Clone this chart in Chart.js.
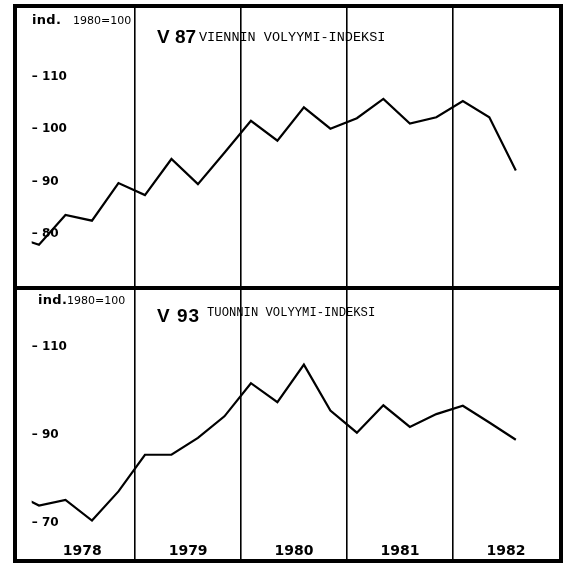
<!DOCTYPE html>
<html>
<head>
<meta charset="utf-8">
<script src="https://cdn.jsdelivr.net/npm/chart.js@4.4.1/dist/chart.umd.min.js"></script>
<style>
  body { margin: 0; background: #fff; }
  #frame {
    position: absolute; left: 13px; top: 4px; width: 550px; height: 559px;
    border: 4px solid #000; box-sizing: border-box;
  }
  .panel { position: relative; width: 542px; }
  #p1 { height: 278px; border-bottom: 4px solid #000; }
  #p2 { height: 269px; }
  .t { position: absolute; line-height: 1; white-space: nowrap; color: #000; }
  .ind { font: bold 13px "DejaVu Sans"; letter-spacing: 0.3px; }
  .base { font: 11px "DejaVu Sans"; }
  .code { font: bold 19px "Liberation Sans"; }
  .name { font: 13.5px "Liberation Mono"; }
</style>
</head>
<body>
<div id="frame">
  <div class="panel" id="p1">
    <canvas id="exportChart"></canvas>
    <span class="t ind" style="left:15px;top:4px">ind.</span>
    <span class="t base" style="left:56px;top:6px">1980=100</span>
    <span class="t code" style="left:140px;top:18px">V 87</span>
    <span class="t name" style="left:182px;top:22px">VIENNIN VOLYYMI-INDEKSI</span>
  </div>
  <div class="panel" id="p2">
    <canvas id="importChart"></canvas>
    <span class="t ind" style="left:21px;top:2px">ind.</span>
    <span class="t base" style="left:50px;top:4px">1980=100</span>
    <span class="t code" style="left:140px;top:15px;letter-spacing:1px">V 93</span>
    <span class="t name" style="left:190px;top:16px;font-size:12.2px">TUONNIN VOLYYMI-INDEKSI</span>
  </div>
</div>
<script>
const years = [1978, 1979, 1980, 1981, 1982];
const quarters = [
  "1977 IV",
  "1978 I", "1978 II", "1978 III", "1978 IV",
  "1979 I", "1979 II", "1979 III", "1979 IV",
  "1980 I", "1980 II", "1980 III", "1980 IV",
  "1981 I", "1981 II", "1981 III", "1981 IV",
  "1982 I", "1982 II", "1982 III"
];
// V 87 viennin volyymi-indeksi (1980=100)
const exportIndex = [79.6, 77.9, 83.6, 82.5, 89.7, 87.4, 94.3, 89.5, 95.5, 101.6,
  97.8, 104.2, 100.1, 102.1, 105.8, 101.1, 102.3, 105.4, 102.3, 92.1];
// V 93 tuonnin volyymi-indeksi (1980=100)
const importIndex = [77.0, 74.0, 75.3, 70.6, 77.2, 85.5, 85.5, 89.3, 94.2, 101.7,
  97.4, 105.9, 95.5, 90.5, 96.7, 91.8, 94.7, 96.6, 92.8, 88.9];
const exportTicks = [80, 90, 100, 110];
const importTicks = [70, 90, 110];

const romans = ["I", "II", "III", "IV"];
const firstYear = years[0];

// x in quarters counted from the start of 1978
function quarterX(label) {
  const parts = label.split(" ");
  return (Number(parts[0]) - firstYear) * 4 + romans.indexOf(parts[1]) + 0.37;
}

const yearLines = years.slice(1).map((y) => (y - firstYear) * 4);
const yearMids = years.map((y) => (y - firstYear) * 4 + 2);

function makePanel(id, values, yTicks, yMin, yMax, showYears) {
  const points = quarters.map((q, i) => ({ x: quarterX(q), y: values[i] }));
  return new Chart(document.getElementById(id), {
    type: "line",
    data: {
      datasets: [{
        data: points,
        borderColor: "#000",
        borderWidth: 2.2,
        pointRadius: 0,
        tension: 0,
        clip: { left: -14.7, top: 0, right: 0, bottom: 0 },
      }],
    },
    options: {
      responsive: true,
      maintainAspectRatio: false,
      animation: false,
      events: [],
      layout: { padding: 0, autoPadding: false },
      plugins: { legend: { display: false }, tooltip: { enabled: false } },
      scales: {
        x: {
          type: "linear",
          min: -0.46,
          max: 20,
          afterBuildTicks: (s) => {
            s.ticks = yearLines.concat(yearMids).sort((a, b) => a - b).map((v) => ({ value: v }));
          },
          afterFit: (s) => {
            s.height = 0;
            s.paddingLeft = 0; s.paddingRight = 0;
          },
          border: { display: false },
          grid: {
            drawTicks: false,
            lineWidth: 1.6,
            color: (ctx) => (ctx.tick && yearLines.includes(ctx.tick.value) ? "#000" : "rgba(0,0,0,0)"),
          },
          ticks: {
            display: showYears,
            mirror: true,
            padding: -1,
            maxRotation: 0,
            autoSkip: false,
            color: "#000",
            font: { family: "DejaVu Sans", weight: "bold", size: 14 },
            callback: (v) => {
              const k = yearMids.indexOf(v);
              return k >= 0 ? String(years[k]) : "";
            },
          },
        },
        y: {
          min: yMin,
          max: yMax,
          afterBuildTicks: (s) => {
            s.ticks = yTicks.map((v) => ({ value: v }));
          },
          afterFit: (s) => {
            s.width = 0;
            s.paddingTop = 0; s.paddingBottom = 0;
          },
          border: { display: false },
          grid: { display: false, drawTicks: false },
          ticks: {
            mirror: true,
            padding: 14.7,
            color: "#000",
            font: { family: "DejaVu Sans", weight: "bold", size: 12 },
            callback: (v) => "\u2013 " + v,
          },
        },
      },
    },
  });
}

const exportChart = makePanel("exportChart", exportIndex, exportTicks, 70, 123.2, false);
const importChart = makePanel("importChart", importIndex, importTicks, 61.9, 122.8, true);
</script>
</body>
</html>
